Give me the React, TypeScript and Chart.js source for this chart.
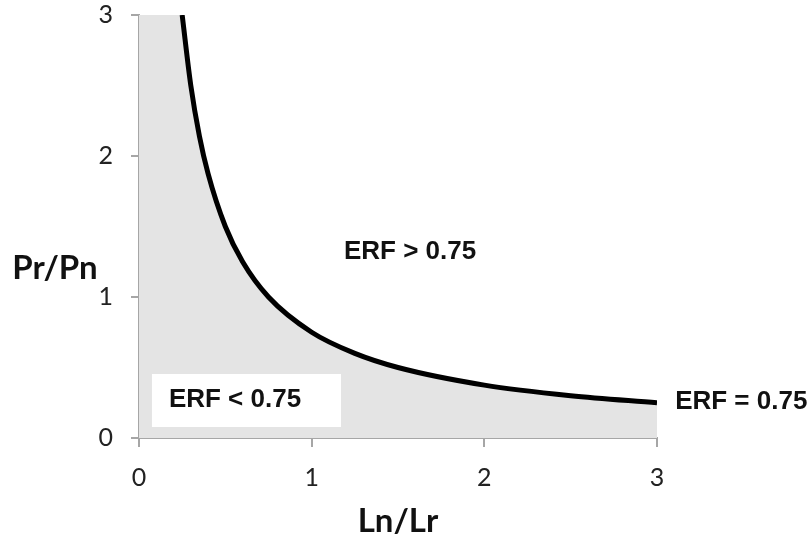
import React, { useEffect, useRef } from 'react';
import { Chart, registerables } from 'chart.js';

Chart.register(...registerables);

// Data
const curveX = [0.25, 0.3, 0.35, 0.4, 0.5, 0.6, 0.75, 1, 1.25, 1.5, 2, 2.5, 3];
const curveY = [3, 2.5, 2.14, 1.875, 1.5, 1.25, 1, 0.75, 0.6, 0.5, 0.375, 0.3, 0.25];
const xTicks = [0, 1, 2, 3];
const yTicks = [0, 1, 2, 3];
const xTitle = 'Ln/Lr';
const yTitle = 'Pr/Pn';
const labelAbove = 'ERF > 0.75';
const labelBelow = 'ERF < 0.75';
const labelCurve = 'ERF = 0.75';

const AXIS_COLOR = '#a6a6a6';
const FILL_COLOR = '#e4e4e4';
const TEXT_COLOR = '#111111';
const TICK_FONT = 'Lato, "Open Sans", sans-serif';
const LABEL_FONT = '"Liberation Sans", Arial, sans-serif';

const overlayPlugin = {
  id: 'overlay',
  afterDatasetsDraw(chart: any) {
    const { ctx, scales } = chart;
    const x = scales.x;
    const y = scales.y;
    ctx.save();
    // white box behind "ERF < 0.75"
    const bx0 = x.getPixelForValue(0.075);
    const bx1 = x.getPixelForValue(1.17);
    const by0 = y.getPixelForValue(0.454);
    const by1 = y.getPixelForValue(0.078);
    ctx.fillStyle = '#ffffff';
    ctx.fillRect(bx0, by0, bx1 - bx0, by1 - by0);
    ctx.fillStyle = TEXT_COLOR;
    ctx.font = `bold 26px ${LABEL_FONT}`;
    ctx.textBaseline = 'middle';
    ctx.textAlign = 'center';
    ctx.fillText(labelBelow, x.getPixelForValue(0.556), y.getPixelForValue(0.27));
    ctx.fillText(labelAbove, x.getPixelForValue(1.57), y.getPixelForValue(1.32));
    ctx.textAlign = 'left';
    ctx.fillText(labelCurve, x.getPixelForValue(3.105), y.getPixelForValue(0.26));
    ctx.restore();
  },
  afterDraw(chart: any) {
    const { ctx } = chart;
    ctx.save();
    ctx.fillStyle = TEXT_COLOR;
    ctx.font = `bold 33px ${TICK_FONT}`;
    ctx.textBaseline = 'middle';
    ctx.textAlign = 'center';
    ctx.fillText(yTitle, 55, 268);
    ctx.fillText(xTitle, 398, 521);
    ctx.restore();
  },
};

export default function App() {
  const ref = useRef<HTMLCanvasElement | null>(null);

  useEffect(() => {
    if (!ref.current) return;
    const curve = curveX.map((v, i) => ({ x: v, y: curveY[i] }));
    const area = [{ x: 0, y: curveY[0] }, ...curve];
    const chart = new Chart(ref.current, {
      type: 'scatter',
      data: {
        datasets: [
          {
            label: 'ERF = 0.75',
            data: curve,
            order: 1,
            showLine: true,
            fill: false,
            borderColor: '#000000',
            borderWidth: 5,
            pointRadius: 0,
            cubicInterpolationMode: 'monotone',
          },
          {
            label: 'area',
            data: area,
            order: 2,
            showLine: true,
            fill: 'origin',
            backgroundColor: FILL_COLOR,
            borderWidth: 0,
            borderColor: 'rgba(0,0,0,0)',
            pointRadius: 0,
            cubicInterpolationMode: 'monotone',
          },
        ],
      },
      options: {
        responsive: false,
        animation: false,
        events: [],
        layout: { padding: { left: 0, right: 155, top: 15, bottom: 0 } },
        plugins: {
          legend: { display: false },
          tooltip: { enabled: false },
          title: { display: false },
        },
        scales: {
          x: {
            type: 'linear',
            min: 0,
            max: 3,
            z: 1,
            afterBuildTicks: (s: any) => {
              s.ticks = xTicks.map((v) => ({ value: v }));
            },
            afterFit: (s: any) => {
              s.height = 102;
              s.paddingLeft = 0;
              s.paddingRight = 0;
            },
            border: { color: AXIS_COLOR, width: 2 },
            grid: {
              drawOnChartArea: false,
              drawTicks: true,
              tickLength: 9,
              color: AXIS_COLOR,
              lineWidth: 2,
            },
            ticks: {
              color: '#222',
              font: { family: TICK_FONT, size: 25 },
              padding: 16,
              maxRotation: 0,
            },
          },
          y: {
            type: 'linear',
            min: 0,
            max: 3,
            z: 1,
            afterBuildTicks: (s: any) => {
              s.ticks = yTicks.map((v) => ({ value: v }));
            },
            afterFit: (s: any) => {
              s.width = 139;
              s.paddingTop = 0;
              s.paddingBottom = 0;
            },
            border: { color: AXIS_COLOR, width: 2 },
            grid: {
              drawOnChartArea: false,
              drawTicks: true,
              tickLength: 8,
              color: AXIS_COLOR,
              lineWidth: 2,
            },
            ticks: {
              color: '#222',
              font: { family: TICK_FONT, size: 25 },
              padding: 18,
            },
          },
        },
      },
      plugins: [overlayPlugin],
    });
    return () => chart.destroy();
  }, []);

  return (
    <div style={{ position: 'absolute', left: 0, top: 0, width: 812, height: 540, background: '#fff' }}>
      <canvas ref={ref} width={812} height={540} />
    </div>
  );
}
